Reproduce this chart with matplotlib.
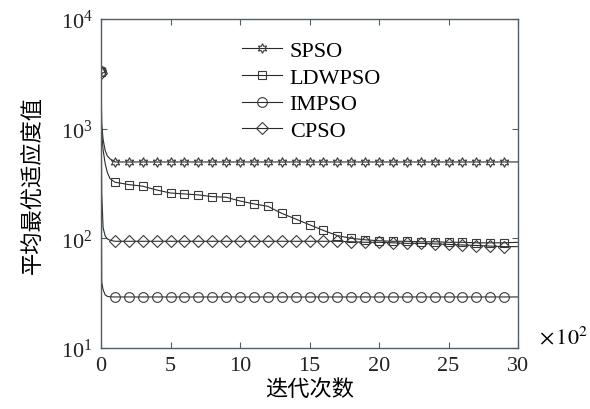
import matplotlib
matplotlib.use("Agg")
from matplotlib import pyplot as plt

plt.rcParams['font.family'] = ['Liberation Serif', 'Noto Sans CJK SC', 'DejaVu Sans']
plt.rcParams['mathtext.fontset'] = 'stix'

# iterations in units of 10^2 (dense points at the start, then every 100 iterations)
X = [0, 0.05, 0.15, 0.3, 0.45, 0.65] + [i for i in range(1, 31)]

spso = [3400, 1100, 800, 630, 565, 530] + [497] * 30
ldwpso = [3300, 900, 640, 480, 400, 350,
          325, 309, 299, 276, 259, 254, 249, 240, 237, 219,
          206, 196, 169, 150, 133, 118, 106, 100, 97, 95,
          94, 94, 93, 93, 92, 92, 91, 91, 91, 92]
impso = [3350, 40, 34, 30.5, 29.6, 29.3] + [29.2] * 30
cpso = [3250, 260, 125, 105, 99, 96,
        94, 94, 94, 94, 94, 94, 94, 94, 94, 94,
        94, 94, 94, 94, 94, 94, 94, 93, 92, 92,
        91, 90, 90, 89, 88, 87, 86, 85, 84, 84]

labels = ['SPSO', 'LDWPSO', 'IMPSO', 'CPSO']
markers = [(6, 1, 0), 's', 'o', 'D']
sizes = [7, 5.5, 7, 6]
marks = [0] + list(range(6, 35))

fig = plt.figure(figsize=(5.9, 4.1), dpi=100)
ax = fig.add_axes([0.1712, 0.1488, 0.7068, 0.8024])

for Y, lab, m, ms in zip([spso, ldwpso, impso, cpso], labels, markers, sizes):
    ax.plot(X, Y, color='#2a2a2a', lw=0.8, marker=m, ms=ms, mfc='none',
            mec='#3a3a3a', mew=0.8, markevery=marks, label=lab)

ax.set_yscale('log')
ax.set_ylim(10, 1e4)
ax.set_xlim(0, 30)
ax.set_xticks([0, 5, 10, 15, 20, 25, 30])
ax.minorticks_off()
ax.tick_params(direction='in', length=4, width=0.8, colors='#506068',
               labelcolor='#222222', labelsize=16, top=True, right=True, pad=6)
for s in ax.spines.values():
    s.set_color('#506068')
    s.set_linewidth(1.0)

ax.set_xlabel('迭代次数', fontsize=16, family=['Noto Sans CJK SC'], labelpad=1)
ax.set_ylabel('平均最优适应度值', fontsize=16, family=['Noto Sans CJK SC'], labelpad=12)

fig.text(0.913, 0.176, r'$\times\,10^{2}$', fontsize=16, ha='left', va='center')

leg = ax.legend(loc='upper left', bbox_to_anchor=(0.29, 0.995), frameon=False,
                fontsize=16, handlelength=1.8, labelspacing=0.27, handletextpad=0.35)

fig.savefig('out.png', dpi=100)
